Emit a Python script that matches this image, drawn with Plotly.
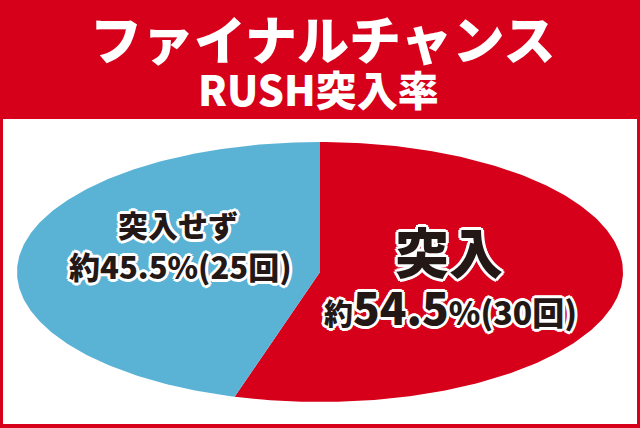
import numpy as np
import plotly.graph_objects as go

# data
labels = ["突入", "突入せず"]
counts = [30, 25]
colors = ["#d6001a", "#5ab3d5"]

title_line1 = "ファイナルチャンス"
title_line2 = "RUSH突入率"

RED = "#d6001a"
INK = "#231815"
FONT = "Noto Sans CJK JP"

W, H = 640, 428
cx, cy = 320, 272     # ellipse centre (px)
rx, ry = 303, 130     # semi axes (px)

total = sum(counts)
fracs = [c / total for c in counts]
pct = [f * 100 for f in fracs]

fig = go.Figure()

# elliptical pie: slices run clockwise from 12 o'clock
start = 0.0
for lab, frac, col in zip(labels, fracs, colors):
    t = np.linspace(start, start + frac, 200) * 2 * np.pi
    xs = np.concatenate([[cx], cx + rx * np.sin(t), [cx]])
    ys = np.concatenate([[cy], cy - ry * np.cos(t), [cy]])
    fig.add_trace(go.Scatter(
        x=xs, y=ys, mode="lines", fill="toself",
        fillcolor=col, line=dict(width=0, color=col),
        name=lab, hoverinfo="name", showlegend=False,
    ))
    start += frac

annotations = []

def add_text(x, y, text, size, color, outlined=False):
    base = dict(x=x, y=y, xref="x", yref="y", showarrow=False,
                xanchor="center", yanchor="middle", text=text)
    if outlined:
        # white halo drawn from shifted copies
        for dx, dy in [(3, 0), (-3, 0), (0, 3), (0, -3),
                       (2, 2), (-2, 2), (2, -2), (-2, -2)]:
            annotations.append(dict(base, xshift=dx, yshift=dy,
                                    font=dict(family=FONT, size=size, color="white",
                                              weight=900)))
    annotations.append(dict(base, font=dict(family=FONT, size=size, color=color,
                                            weight=900)))

add_text(322, 37, title_line1, 52, "white")
add_text(318, 88, title_line2, 41, "white")

add_text(178, 224, labels[1], 30, INK, True)
add_text(180, 265, f"約{pct[1]:.1f}%({counts[1]}回)", 31, INK, True)

add_text(449, 250, labels[0], 54, INK, True)
add_text(450, 306,
         f"<span style='font-size:29px'>約</span>{pct[0]:.1f}"
         f"<span style='font-size:32px'>%({counts[0]}回)</span>",
         44, INK, True)

fig.update_layout(
    width=W, height=H,
    margin=dict(l=0, r=0, t=0, b=0),
    paper_bgcolor=RED, plot_bgcolor="rgba(0,0,0,0)",
    xaxis=dict(range=[0, W], visible=False, fixedrange=True),
    yaxis=dict(range=[H, 0], visible=False, fixedrange=True),
    shapes=[dict(type="rect", xref="x", yref="y", x0=3, x1=637, y0=119, y1=424,
                 fillcolor="white", line=dict(width=0), layer="below")],
    annotations=annotations,
    showlegend=False,
)

fig.write_html("out.html", config={"displayModeBar": False},
               post_script="document.body.style.margin='0';")
